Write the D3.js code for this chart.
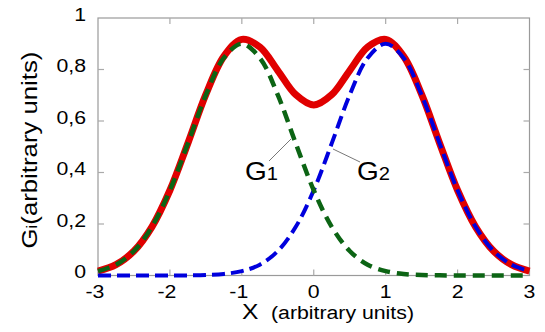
<!DOCTYPE html>
<html>
<head>
<meta charset="utf-8">
<script src="https://cdn.jsdelivr.net/npm/d3@7"></script>
<style>
  body { margin: 0; background: #fff; }
  text { font-family: "Liberation Sans", Arial, sans-serif; fill: #000; }
</style>
</head>
<body>
<svg class="chart" width="545" height="332"></svg>
<script>
// x positions (arbitrary units)
const xs = [-3, -2.75, -2.5, -2.25, -2, -1.75, -1.5, -1.25, -1, -0.75, -0.5, -0.25, 0,
            0.25, 0.5, 0.75, 1, 1.25, 1.5, 1.75, 2, 2.25, 2.5, 2.75, 3];
// first gaussian, peak near x = -1
const g1 = [0.017, 0.042, 0.095, 0.189, 0.331, 0.513, 0.701, 0.845, 0.9, 0.845, 0.701, 0.513, 0.331,
            0.189, 0.095, 0.042, 0.017, 0.006, 0.002, 0.0005, 0.0001, 0, 0, 0, 0];
// second gaussian, peak near x = 1
const g2 = [0, 0, 0, 0, 0.0001, 0.0005, 0.002, 0.006, 0.017, 0.042, 0.095, 0.189, 0.331,
            0.513, 0.701, 0.845, 0.9, 0.845, 0.701, 0.513, 0.331, 0.189, 0.095, 0.042, 0.017];
// red total curve
const total = [0.017, 0.042, 0.095, 0.189, 0.331, 0.514, 0.703, 0.851, 0.917, 0.887, 0.796, 0.702, 0.662,
               0.702, 0.796, 0.887, 0.917, 0.851, 0.703, 0.514, 0.331, 0.189, 0.095, 0.042, 0.017];

const xTicks = [-3, -2, -1, 0, 1, 2, 3];
const yTicks = [0, 0.2, 0.4, 0.6, 0.8, 1];

const margin = { left: 98, right: 15.5, top: 18, bottom: 56.5 };
const width = 545, height = 332;
const stretch = 1.12; // the original lettering is a bit wider than Liberation Sans

const svg = d3.select(".chart");

const x = d3.scaleLinear().domain([-3, 3]).range([margin.left, width - margin.right]);
const y = d3.scaleLinear().domain([0, 1]).range([height - margin.bottom, margin.top]);

const fmt = d => d3.format("~g")(d).replace(".", ",");

// put a text at (tx, ty), widened horizontally
function label(parent, tx, ty, size, rot) {
    return parent.append("text")
        .attr("transform", "translate(" + tx + "," + ty + ")" + (rot ? " rotate(" + rot + ")" : "") +
              " scale(" + stretch + ",1)")
        .attr("font-size", size);
}

// frame
svg.append("rect")
    .attr("x", x(-3)).attr("y", y(1))
    .attr("width", x(3) - x(-3)).attr("height", y(0) - y(1))
    .attr("fill", "none").attr("stroke", "#9a9a9a").attr("stroke-width", 1.2);

// inward ticks on all four sides
const tickLen = 6;
const tickG = svg.append("g").attr("stroke", "#aaa").attr("stroke-width", 1.2);
xTicks.slice(1, -1).forEach(t => {
    tickG.append("line").attr("x1", x(t)).attr("x2", x(t)).attr("y1", y(0)).attr("y2", y(0) - tickLen);
    tickG.append("line").attr("x1", x(t)).attr("x2", x(t)).attr("y1", y(1)).attr("y2", y(1) + tickLen);
});
yTicks.slice(1, -1).forEach(t => {
    tickG.append("line").attr("x1", x(-3)).attr("x2", x(-3) + tickLen).attr("y1", y(t)).attr("y2", y(t));
    tickG.append("line").attr("x1", x(3)).attr("x2", x(3) - tickLen).attr("y1", y(t)).attr("y2", y(t));
});

// tick labels
const xtG = svg.append("g");
xTicks.forEach(d => {
    label(xtG, x(d) - (d < 0 ? 3 : 0), 298, 19).attr("text-anchor", "middle").text(d);
});
const ytG = svg.append("g");
yTicks.forEach(d => {
    label(ytG, 86, y(d) + 2.5, 19).attr("text-anchor", "end").text(fmt(d));
});

// axis titles
label(svg, 242, 319, 22).text("X");
label(svg, 271, 319, 19).text("(arbitrary units)");

const yl = label(svg, 37, 150, 23, -90).attr("text-anchor", "middle");
yl.append("tspan").text("G");
yl.append("tspan").attr("font-size", 15).text("i");
yl.append("tspan").text("(arbitrary units)");

// curves
const line = vals => d3.line()
    .x((d, i) => x(xs[i]))
    .y(d => y(d))
    .curve(d3.curveCatmullRom.alpha(0.5))(vals);

svg.append("path").attr("d", line(total))
    .attr("fill", "none").attr("stroke", "#e00000").attr("stroke-width", 7);
svg.append("path").attr("d", line(g2))
    .attr("fill", "none").attr("stroke", "#0000dd").attr("stroke-width", 4)
    .attr("stroke-dasharray", "13,6");
svg.append("path").attr("d", line(g1))
    .attr("fill", "none").attr("stroke", "#0c6414").attr("stroke-width", 4.5)
    .attr("stroke-dasharray", "12,7");

// curve labels with leader lines
const labels = [
    { name: "G", sub: "1", tx: 245, ty: 180, lx1: 269, ly1: 161, lx2: 291, ly2: 139 },
    { name: "G", sub: "2", tx: 357, ty: 180, lx1: 333, ly1: 149, lx2: 360, ly2: 162 }
];
labels.forEach(l => {
    svg.append("line")
        .attr("x1", l.lx1).attr("y1", l.ly1).attr("x2", l.lx2).attr("y2", l.ly2)
        .attr("stroke", "#555").attr("stroke-width", 0.8);
    const t = label(svg, l.tx, l.ty, 25);
    t.append("tspan").text(l.name);
    t.append("tspan").attr("font-size", 18).attr("dx", 0).text(l.sub);
});
</script>
</body>
</html>
